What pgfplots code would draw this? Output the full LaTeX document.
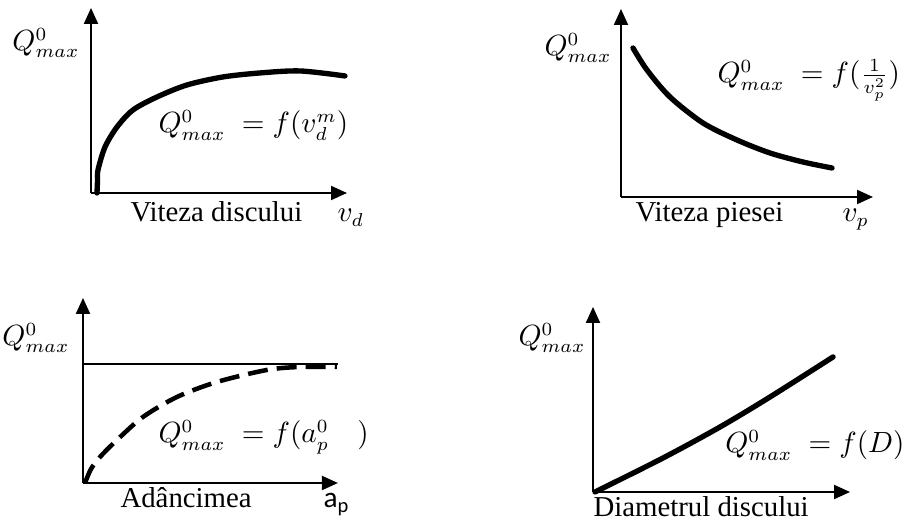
\documentclass[border=0pt]{standalone}
\usepackage{fontspec}
\setmainfont{Liberation Serif}
\newfontfamily\calibri{Carlito}
\usepackage{pgfplots}
\pgfplotsset{compat=1.18}
\usetikzlibrary{arrows.meta}

% one unit of the page grid = 0.375pt, measured from the top-left corner
\pgfplotsset{
  panel/.style={
    scale only axis, axis lines*=left, ticks=none,
    xmin=0, ymin=0, anchor=south west, clip=false,
    axis line style={line width=0.75pt, -{Triangle[length=6pt,width=5.25pt]}},
  },
  curve/.style={black, line width=2pt, smooth, no markers, line cap=round},
}
\newcommand{\lbl}{\fontsize{10.8}{13}\selectfont}
\newcommand{\mth}{\fontsize{10.6}{13}\selectfont}

\begin{document}
\begin{tikzpicture}
\useasboundingbox (0,0) rectangle (340.5pt,-197.25pt);

% --- disc speed ---
\begin{axis}[panel, at={(34.125pt,-72.375pt)}, width=96pt, height=69.4pt, xmax=256, ymax=185]
\addplot[curve] coordinates {(6,0) (6.5,12) (7,23) (14,46) (26,66) (42,83) (66,96) (96,108) (132,116) (169,120) (209,122) (254,117)};
\end{axis}

% --- workpiece speed ---
\begin{axis}[panel, at={(232.875pt,-73.875pt)}, width=94.5pt, height=70.5pt, xmax=252, ymax=188]
\addplot[curve] coordinates {(12,149) (26,127) (49,100) (82,74) (116,57) (149,44) (182,35) (211,29)};
\end{axis}

% --- depth of cut ---
\begin{axis}[panel, at={(31.125pt,-181.125pt)}, width=95.6pt, height=69.4pt, xmax=255, ymax=185]
\addplot[black, line width=0.6pt, no markers] coordinates {(0,119) (255,119)};
\addplot[curve, line width=1.7pt, dash pattern=on 7.5pt off 3.4pt, line cap=butt] coordinates {(2,0) (8,14) (17,26) (34,43) (60,66) (94,86) (134,101) (184,113) (217,116) (254,116)};
\end{axis}

% --- disc diameter ---
\begin{axis}[panel, at={(222.375pt,-184.5pt)}, width=96.4pt, height=69.4pt, xmax=257, ymax=185]
\addplot[curve] coordinates {(2,0) (70,34) (127,65) (177,95) (240,135)};
\end{axis}

\begin{scope}[x=0.375pt, y=-0.375pt, inner sep=0pt]
\node[font=\mth] at (46,43) {$Q^0_{max}$};
\node[font=\mth, anchor=base west] at (158,133) {$Q^0_{max}\;=f(v_d^m)$};
\node[font=\lbl, anchor=base west] at (130,222) {Viteza discului};
\node[font=\mth, anchor=base west] at (337,222) {$v_d$};

\node[font=\mth] at (578,48) {$Q^0_{max}$};
\node[font=\mth, anchor=base west] at (717,83) {$Q^0_{max}\;=f({\textstyle\frac{1}{v_p^2}})$};
\node[font=\lbl, anchor=base west] at (635,222) {Viteza piesei};
\node[font=\mth, anchor=base west] at (842,222) {$v_p$};

\node[font=\mth] at (36,338) {$Q^0_{max}$};
\node[font=\mth, anchor=base west] at (158,443) {$Q^0_{max}\;=f(a_p^0\quad)$};
\node[font=\lbl, anchor=base west] at (120,508) {Adâncimea};
\node[font=\calibri\fontsize{11}{13}\selectfont, anchor=base west] at (323,508) {a\textsubscript{p}};

\node[font=\mth] at (552,338) {$Q^0_{max}$};
\node[font=\mth, anchor=base east] at (905,453) {$Q^0_{max}\;=f(D)$};
\node[font=\lbl, anchor=base west] at (593,517) {Diametrul discului};
\end{scope}
\end{tikzpicture}
\end{document}
